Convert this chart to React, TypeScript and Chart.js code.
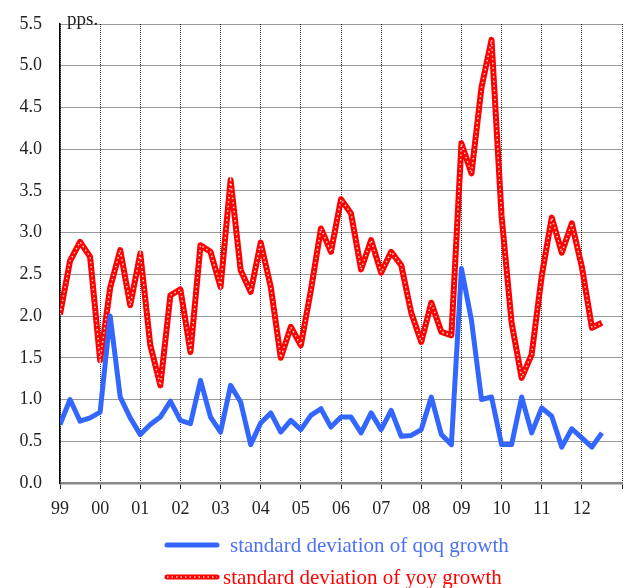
import React, { useEffect, useRef } from 'react';
import { Chart, registerables } from 'chart.js';

Chart.register(...registerables);

// Quarterly observations, 1999Q1 .. 2012Q3
const yearLabels = ['99', '00', '01', '02', '03', '04', '05', '06', '07', '08', '09', '10', '11', '12'];

const qoqStd = [
  0.70, 1.00, 0.74, 0.78, 0.85, 2.00, 1.03, 0.78, 0.58, 0.70,
  0.79, 0.98, 0.75, 0.71, 1.23, 0.79, 0.61, 1.17, 0.97, 0.46,
  0.72, 0.84, 0.61, 0.75, 0.64, 0.81, 0.89, 0.67, 0.79, 0.79,
  0.60, 0.84, 0.64, 0.87, 0.56, 0.57, 0.64, 1.03, 0.58, 0.46,
  2.57, 1.95, 1.00, 1.03, 0.46, 0.46, 1.03, 0.60, 0.90, 0.80,
  0.43, 0.65, 0.54, 0.43, 0.60,
];

const yoyStd = [
  2.02, 2.66, 2.89, 2.71, 1.47, 2.34, 2.79, 2.13, 2.75, 1.65,
  1.17, 2.25, 2.32, 1.57, 2.85, 2.77, 2.35, 3.63, 2.55, 2.29,
  2.88, 2.35, 1.50, 1.87, 1.65, 2.31, 3.05, 2.77, 3.40, 3.23,
  2.56, 2.91, 2.52, 2.77, 2.61, 2.04, 1.69, 2.16, 1.81, 1.77,
  4.07, 3.71, 4.74, 5.31, 3.20, 1.92, 1.26, 1.54, 2.48, 3.18,
  2.76, 3.11, 2.59, 1.86, 1.92,
];

const seriesLabels = ['standard deviation of qoq growth', 'standard deviation of yoy growth'];
const unitLabel = 'pps.';

const SERIF = '"Liberation Serif", "DejaVu Serif", "Times New Roman", serif';
const BLUE = '#3366ff';
const BLUE_TEXT = '#4d70f5';
const RED = '#ff0000';

const toPoints = (values: number[]) => values.map((y, i) => ({ x: i, y }));

// Unit caption over the value axis and the two-row legend under the plot
const captionsPlugin = {
  id: 'captions',
  afterDraw(chart: any) {
    const { ctx, chartArea } = chart;
    ctx.save();
    ctx.font = `19px ${SERIF}`;
    ctx.fillStyle = '#222';
    ctx.textBaseline = 'alphabetic';
    ctx.textAlign = 'left';
    ctx.fillText(unitLabel, chartArea.left + 7, chartArea.top + 1);

    const rows = [
      { label: seriesLabels[0], color: BLUE, text: BLUE_TEXT, dotted: false, y: 545, textX: 230 },
      { label: seriesLabels[1], color: RED, text: RED, dotted: true, y: 577, textX: 223 },
    ];
    ctx.font = `21px ${SERIF}`;
    ctx.textBaseline = 'middle';
    for (const r of rows) {
      ctx.lineCap = 'round';
      ctx.strokeStyle = r.color;
      ctx.lineWidth = 5;
      ctx.beginPath();
      ctx.moveTo(167, r.y);
      ctx.lineTo(217, r.y);
      ctx.stroke();
      if (r.dotted) {
        ctx.lineCap = 'butt';
        ctx.strokeStyle = 'rgba(255,255,255,0.85)';
        ctx.lineWidth = 1.5;
        ctx.setLineDash([1.5, 3]);
        ctx.beginPath();
        ctx.moveTo(167, r.y);
        ctx.lineTo(217, r.y);
        ctx.stroke();
        ctx.setLineDash([]);
      }
      ctx.fillStyle = r.text;
      ctx.fillText(r.label, r.textX, r.y + 1);
    }
    ctx.restore();
  },
};

export default function App() {
  const canvasRef = useRef<HTMLCanvasElement | null>(null);

  useEffect(() => {
    const canvas = canvasRef.current;
    if (!canvas) return;
    const gridDash = [1, 1];
    const chart = new Chart(canvas, {
      type: 'line',
      data: {
        datasets: [
          {
            label: seriesLabels[0],
            data: toPoints(qoqStd),
            borderColor: BLUE,
            borderWidth: 5,
            pointRadius: 0,
            tension: 0,
            fill: false,
            order: 0,
            borderJoinStyle: 'round',
          },
          {
            label: seriesLabels[1] + ' dots',
            data: toPoints(yoyStd),
            borderColor: 'rgba(255,255,255,0.85)',
            borderWidth: 1.5,
            borderDash: [1.5, 3],
            pointRadius: 0,
            tension: 0,
            fill: false,
            order: 1,
          },
          {
            label: seriesLabels[1],
            data: toPoints(yoyStd),
            borderColor: RED,
            borderWidth: 6,
            pointRadius: 0,
            tension: 0,
            fill: false,
            order: 2,
            borderJoinStyle: 'round',
          },
        ],
      },
      options: {
        responsive: false,
        animation: false,
        layout: { padding: { top: 24, right: 2, bottom: 70, left: 0 } },
        plugins: {
          legend: { display: false },
          tooltip: { enabled: false },
          title: { display: false },
        },
        scales: {
          x: {
            type: 'linear',
            min: 0,
            max: yearLabels.length * 4,
            afterFit: (s: any) => {
              s.height = 35;
              s.paddingLeft = 0;
              s.paddingRight = 0;
            },
            ticks: {
              stepSize: 4,
              autoSkip: false,
              maxRotation: 0,
              padding: 9,
              color: '#222',
              font: { family: SERIF, size: 18 },
              callback: (v: any) => {
                const idx = Math.round(Number(v) / 4);
                return Number(v) % 4 === 0 && idx < yearLabels.length ? yearLabels[idx] : '';
              },
            },
            grid: {
              color: 'rgba(0,0,0,0.8)',
              lineWidth: 1,
              drawTicks: true,
              tickLength: 6,
              tickColor: '#222',
              tickWidth: 1,
            },
            border: { display: true, color: '#888', width: 2.5, dash: gridDash },
          },
          y: {
            min: 0,
            max: 5.5,
            afterFit: (s: any) => {
              s.width = 60;
              s.paddingTop = 0;
              s.paddingBottom = 0;
            },
            ticks: {
              stepSize: 0.5,
              padding: 18,
              color: '#222',
              font: { family: SERIF, size: 18 },
              callback: (v: any) => Number(v).toFixed(1),
            },
            grid: {
              color: 'rgba(0,0,0,0.8)',
              lineWidth: 1,
              drawTicks: false,
            },
            border: { display: true, color: '#000', width: 1.5, dash: gridDash },
          },
        },
      },
      plugins: [captionsPlugin],
    } as any);
    return () => chart.destroy();
  }, []);

  return (
    <div style={{ position: 'absolute', left: 0, top: 0, width: 624, height: 588, background: '#fff' }}>
      <canvas ref={canvasRef} width={624} height={588} style={{ width: 624, height: 588 }} />
    </div>
  );
}
